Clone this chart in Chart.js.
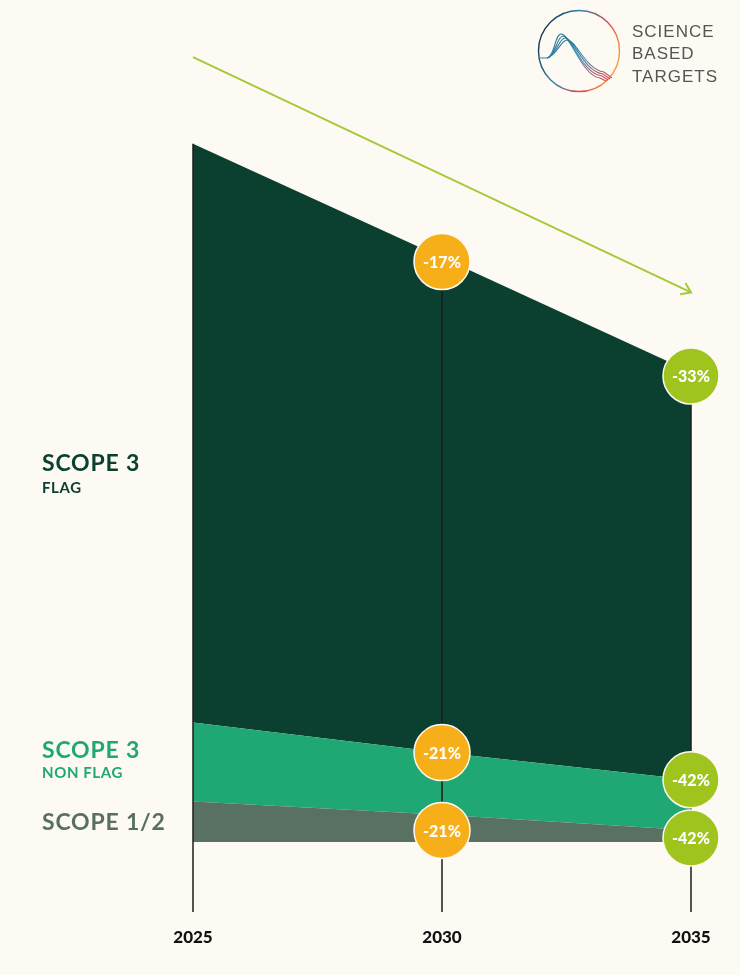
<!DOCTYPE html>
<html>
<head>
<meta charset="utf-8">
<script src="https://cdn.jsdelivr.net/npm/chart.js@4.4.1/dist/chart.umd.min.js"></script>
<style>
  html, body { margin: 0; padding: 0; background: #fdfaf4; }
  #wrap { position: relative; width: 740px; height: 975px; background: #fdfaf4; }
  #chart { position: absolute; left: 0; top: 0; }
  .lbl { position: absolute; left: 42px; font-family: 'Lato', sans-serif; font-weight: 700; line-height: 1; white-space: nowrap; }
  .big { font-size: 23px; letter-spacing: 0.8px; }
  .small { font-size: 15px; letter-spacing: 0.6px; }
  #logo { position: absolute; left: 530px; top: 0; }
</style>
</head>
<body>
<div id="wrap">
  <canvas id="chart" width="740" height="975"></canvas>

  <div class="lbl big" style="top:451px; color:#0b4030;">SCOPE 3</div>
  <div class="lbl small" style="top:480px; color:#0b4030;">FLAG</div>
  <div class="lbl big" style="top:738px; color:#1fa874;">SCOPE 3</div>
  <div class="lbl small" style="top:765px; color:#1fa874;">NON FLAG</div>
  <div class="lbl big" style="top:810px; color:#58705f;">SCOPE 1/2</div>

  <svg id="logo" width="210" height="100" viewBox="0 0 210 100">
    <defs>
      <linearGradient id="ring" x1="0" y1="0.3" x2="1" y2="0.7">
        <stop offset="0" stop-color="#1b2d47"/>
        <stop offset="0.35" stop-color="#2a86ab"/>
        <stop offset="0.7" stop-color="#e2494c"/>
        <stop offset="1" stop-color="#f5aa36"/>
      </linearGradient>
      <linearGradient id="wave" x1="0" y1="0" x2="1" y2="1">
        <stop offset="0" stop-color="#1f6f93"/>
        <stop offset="0.5" stop-color="#3a8db0"/>
        <stop offset="1" stop-color="#e0474c"/>
      </linearGradient>
    </defs>
    <circle cx="49" cy="51" r="40.5" fill="none" stroke="url(#ring)" stroke-width="1.4"/>
    <path d="M9 58 L17 58 C24 58 25 34 31 34 C40 34 52 76 70 78 L76 81" fill="none" stroke="url(#wave)" stroke-width="1.1"/>
    <path d="M17 58 C25 57 27 36 33 36 C42 36 52 74 72 76 L78 80" fill="none" stroke="url(#wave)" stroke-width="1.1"/>
    <path d="M17 58 C26 56 29 38 35 38 C44 38 54 72 73 74 L80 79" fill="none" stroke="url(#wave)" stroke-width="1.1"/>
    <path d="M17 58 C27 55 31 40 37 40 C46 40 56 70 74 72 L82 78" fill="none" stroke="url(#wave)" stroke-width="1.1"/>
    <g font-family="'Liberation Sans', Arial, sans-serif" font-size="17" fill="#555" letter-spacing="1">
      <text x="102" y="37">SCIENCE</text>
      <text x="102" y="58.5">BASED</text>
      <text x="102" y="81.5">TARGETS</text>
    </g>
  </svg>
</div>

<script>
// emissions by scope (2025 total = 100)
const years = ['2025', '2030', '2035'];
const scope12 = [5.8, 3.9, 1.7];
const scope3NonFlag = [11.3, 8.9, 7.2];
const scope3Flag = [82.9, 70.9, 58.4];
// the trend arrow above the chart
const trendArrow = [112.4, null, 78.7];

// reduction badges (percent change vs 2025)
const scope12Change = [null, -21, -42];
const nonFlagChange = [null, -21, -42];
const flagChange = [null, -17, -33];
const badgeColors = [null, '#f6ae19', '#9fc41d'];

const BG = '#fdfaf4';

const overlayPlugin = {
    id: 'overlay',
    afterDatasetsDraw(chart) {
        const ctx = chart.ctx;
        const xs = chart.scales.x;
        const ys = chart.scales.y;
        const area = chart.chartArea;
        const base = ys.getPixelForValue(0);
        const m0 = chart.getDatasetMeta(0).data;
        const m1 = chart.getDatasetMeta(1).data;
        const m2 = chart.getDatasetMeta(2).data;

        ctx.save();

        // year lines: from top of stack down past the baseline, with the year under it
        ctx.strokeStyle = '#1d1d1b';
        ctx.lineWidth = 1.5;
        ctx.fillStyle = '#111';
        ctx.font = '900 17px Lato, sans-serif';
        ctx.textAlign = 'center';
        ctx.textBaseline = 'middle';
        years.forEach((y, i) => {
            const px = xs.getPixelForValue(i);
            ctx.beginPath();
            ctx.moveTo(px, m2[i].y);
            ctx.lineTo(px, area.bottom + 70);
            ctx.stroke();
            ctx.fillText(y, px, area.bottom + 96);
        });

        // arrow head on trend line
        const arr = chart.getDatasetMeta(3).data;
        const a = arr[0], b = arr[arr.length - 1];
        const ang = Math.atan2(b.y - a.y, b.x - a.x);
        ctx.strokeStyle = '#a5c93a';
        ctx.lineWidth = 2;
        ctx.beginPath();
        ctx.moveTo(b.x - 11 * Math.cos(ang - 0.6), b.y - 11 * Math.sin(ang - 0.6));
        ctx.lineTo(b.x, b.y);
        ctx.lineTo(b.x - 11 * Math.cos(ang + 0.6), b.y - 11 * Math.sin(ang + 0.6));
        ctx.stroke();

        // badges
        const drawBadge = (x, y, val, color) => {
            ctx.beginPath();
            ctx.arc(x, y, 28, 0, Math.PI * 2);
            ctx.fillStyle = color;
            ctx.fill();
            ctx.strokeStyle = BG;
            ctx.lineWidth = 1.5;
            ctx.stroke();
            ctx.fillStyle = '#ffffff';
            ctx.font = '900 16px Lato, sans-serif';
            ctx.textAlign = 'center';
            ctx.textBaseline = 'middle';
            ctx.fillText(val + '%', x, y + 1);
        };
        years.forEach((y, i) => {
            if (flagChange[i] !== null) drawBadge(m2[i].x, m2[i].y + 4, flagChange[i], badgeColors[i]);
            if (nonFlagChange[i] !== null) drawBadge(m1[i].x, m1[i].y, nonFlagChange[i], badgeColors[i]);
            // scope 1/2 badge sits in the middle of its thin band
            if (scope12Change[i] !== null) drawBadge(m0[i].x, (m0[i].y + base) / 2 + 2, scope12Change[i], badgeColors[i]);
        });

        ctx.restore();
    }
};

new Chart(document.getElementById('chart'), {
    type: 'line',
    data: {
        labels: years,
        datasets: [
            { label: 'Scope 1/2', data: scope12, backgroundColor: '#587163', borderWidth: 0, fill: 'origin', pointRadius: 0 },
            { label: 'Scope 3 non FLAG', data: scope3NonFlag, backgroundColor: '#1fa874', borderWidth: 0, fill: '-1', pointRadius: 0 },
            { label: 'Scope 3 FLAG', data: scope3Flag, backgroundColor: '#0b4031', borderWidth: 0, fill: '-1', pointRadius: 0 },
            { label: 'trend', data: trendArrow, stack: 'arrow', borderColor: '#a5c93a', borderWidth: 2,
              fill: false, pointRadius: 0, spanGaps: true }
        ]
    },
    options: {
        responsive: false,
        animation: false,
        layout: { padding: { left: 193, right: 49, top: 39, bottom: 133 } },
        plugins: { legend: { display: false }, tooltip: { enabled: false } },
        elements: { line: { tension: 0 } },
        scales: {
            x: { display: false, offset: false },
            y: { display: false, stacked: true, min: 0, max: 115 }
        }
    },
    plugins: [overlayPlugin]
});
</script>
</body>
</html>
